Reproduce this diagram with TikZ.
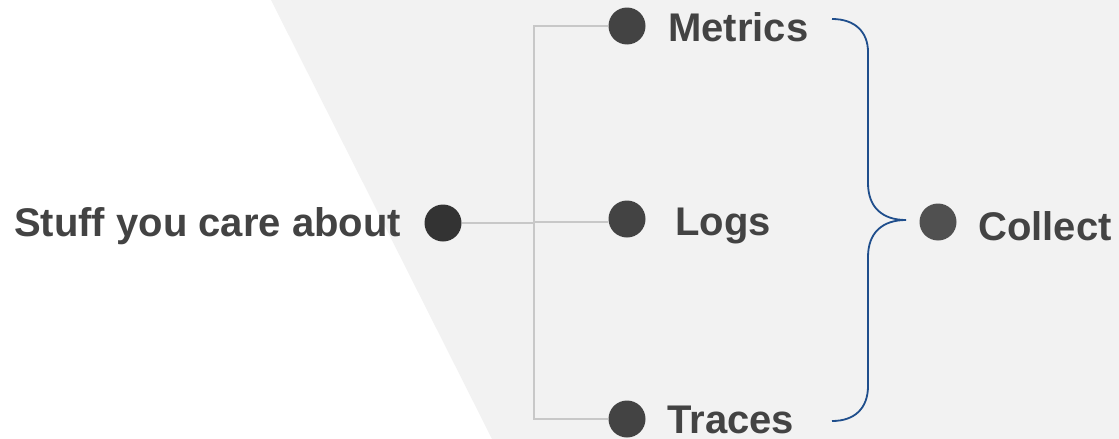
\documentclass[tikz,border=0pt]{standalone}
\usepackage{fontspec}
\setmainfont{Liberation Sans}
\begin{document}
\definecolor{panel}{HTML}{F2F2F2}
\definecolor{ink}{HTML}{434343}
\definecolor{inkdark}{HTML}{333333}
\definecolor{inkmid}{HTML}{505050}
\definecolor{wire}{HTML}{C8C8C8}
\definecolor{brace}{HTML}{1F4E8C}
\begin{tikzpicture}[x=1pt,y=-1pt,
  dot/.style={circle,fill=ink,minimum size=37pt,inner sep=0pt},
  label/.style={anchor=base west,inner sep=0pt,text=ink,font=\fontsize{40}{40}\selectfont\bfseries},
  link/.style={draw=wire,line width=1.8pt},
  bracket/.style={draw=brace,line width=1.8pt}]
\useasboundingbox (0,0) rectangle (1119,439);
% grey panel with a slanted left edge
\fill[panel] (271,0) -- (1119,0) -- (1119,439) -- (492,439) -- cycle;

% connector junctions
\coordinate (jt) at (534,26);
\coordinate (jm) at (534,222);
\coordinate (jb) at (534,419);

% dots
\node[dot,fill=inkdark] (src) at (443,223) {};
\node[dot] (met) at (627,26) {};
\node[dot] (logs) at (627,219) {};
\node[dot] (tra) at (627,419) {};
\node[dot,fill=inkmid] (col) at (938,222) {};

% tree of connectors
\draw[link] (met.west) -- (jt) -- (jb) -- (tra.west);
\draw[link] (src.east) -- (src.east -| jm);
\draw[link] (jm) -- (jm -| logs.west);

% texts
\node[label] (srct) at (14,236) {Stuff you care about};
\node[label] (mett) at (668,41) {Metrics};
\node[label] (logst) at (675,235) {Logs};
\node[label] (trat) at (667,433) {Traces};
\node[label] (colt) at (978,240) {Collect};

% curly brace gathering the three signals
\coordinate (btop) at (832,19);
\coordinate (btip) at (906,220);
\coordinate (bbot) at (832,421);
\draw[bracket] (btop) .. controls (855,19) and (868,32) .. (868,52)
  -- (868,183) .. controls (868,207) and (882,220) .. (btip)
  .. controls (882,220) and (868,233) .. (868,257)
  -- (868,386) .. controls (868,408) and (855,421) .. (bbot);
\end{tikzpicture}
\end{document}
